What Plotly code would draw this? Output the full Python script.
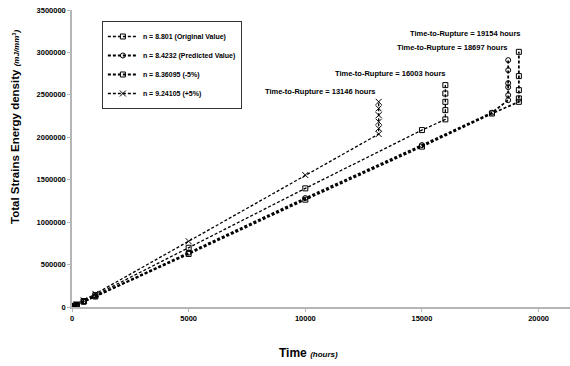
import plotly.graph_objects as go

# ---- data ----
t_orig = [0, 20, 50, 100, 200, 500, 1000, 5000, 10000, 15000, 16003, 16003, 16003, 16003, 16003]
v_orig = [0, 2800, 7000, 14000, 28000, 70000, 140000, 698000, 1398000, 2085000,
          2211000, 2320000, 2418000, 2516000, 2615000]

t_pred = [0, 20, 50, 100, 200, 500, 1000, 5000, 10000, 15000, 18000,
          18697, 18697, 18697, 18697, 18697, 18697]
v_pred = [0, 2500, 6300, 12600, 25000, 63000, 126000, 640000, 1284000, 1908000, 2290000,
          2438000, 2497000, 2591000, 2638000, 2791000, 2909000]

t_m5 = [0, 20, 50, 100, 200, 500, 1000, 5000, 10000, 15000, 18000,
        19154, 19154, 19154, 19154, 19154]
v_m5 = [0, 2500, 6200, 12400, 24800, 62000, 124000, 625000, 1265000, 1890000, 2280000,
        2418000, 2458000, 2556000, 2721000, 3007000]

t_p5 = [0, 20, 50, 100, 200, 500, 1000, 5000, 10000,
        13146, 13146, 13146, 13146, 13146, 13146]
v_p5 = [0, 3100, 7800, 15500, 31000, 78000, 155000, 775000, 1555000,
        2038000, 2105000, 2183000, 2261000, 2340000, 2418000]

names = ["n = 8.801 (Original Value)", "n = 8.4232 (Predicted Value)",
         "n = 8.36095 (-5%)", "n = 9.24105 (+5%)"]

rupture_labels = ["Time-to-Rupture = 19154 hours", "Time-to-Rupture = 18697 hours",
                  "Time-to-Rupture = 16003 hours", "Time-to-Rupture = 13146 hours"]
rupture_pos_t = [19330, 18770, 16115, 13115]
rupture_pos_v = [3227000, 3054000, 2756000, 2536000]

x_ticks = [0, 5000, 10000, 15000, 20000]
y_ticks = [0, 500000, 1000000, 1500000, 2000000, 2500000, 3000000, 3500000]

FONT = "Liberation Sans"

fig = go.Figure()
series = [
    (t_orig, v_orig, names[0], "square-open", 1.3, 5),
    (t_pred, v_pred, names[1], "circle-open", 1.8, 5),
    (t_m5, v_m5, names[2], "square-open", 1.8, 5),
    (t_p5, v_p5, names[3], "x-thin-open", 1.3, 6),
]
for i, (t, v, nm, sym, lw, ms) in enumerate(series):
    fig.add_trace(go.Scatter(
        x=t, y=v, name=nm, mode="lines+markers",
        line=dict(color="black", width=lw, dash="3px,2px"),
        marker=dict(symbol=sym, size=ms, color="black",
                    line=dict(color="black", width=1)),
    ))

for txt, tx, vy in zip(rupture_labels, rupture_pos_t, rupture_pos_v):
    fig.add_annotation(x=tx, y=vy, xref="x", yref="y", text=f"<b>{txt}</b>",
                       showarrow=False, xanchor="right", yanchor="middle",
                       font=dict(family=FONT, size=7.5, color="black"))

fig.add_annotation(xref="paper", yref="paper", x=0.474, y=-0.155,
                   text="<b>Time <i><span style='font-size:8px'>(hours)</span></i></b>",
                   showarrow=False, xanchor="center", yanchor="middle",
                   font=dict(family=FONT, size=12, color="black"))
fig.add_annotation(xref="paper", yref="paper", x=-0.1145, y=0.606, textangle=-90,
                   text="<b>Total Strains Energy density <i><span style='font-size:8px'>(mJ/mm<sup>3</sup>)</span></i></b>",
                   showarrow=False, xanchor="center", yanchor="middle",
                   font=dict(family=FONT, size=11.5, color="black"))

axis_common = dict(showgrid=False, zeroline=False, showline=True, linecolor="#b5b5b5",
                   linewidth=1.5, ticks="outside", tickcolor="#b5b5b5", ticklen=3,
                   tickformat="d",
                   tickfont=dict(family=FONT, size=7.5, color="black", weight="bold"))

fig.update_layout(
    width=570, height=366,
    margin=dict(l=72, r=0, t=10, b=59),
    paper_bgcolor="white", plot_bgcolor="white",
    xaxis=dict(range=[0, 21346], tickvals=x_ticks, **axis_common),
    yaxis=dict(range=[0, 3500000], tickvals=y_ticks, **axis_common),
    showlegend=True,
    legend=dict(x=0.06, y=0.963, xanchor="left", yanchor="top",
                bordercolor="#333", borderwidth=1, bgcolor="white",
                traceorder="normal",
                font=dict(family=FONT, size=7, color="black", weight="bold"),
                itemwidth=30),
)

fig.write_html("out.html")
